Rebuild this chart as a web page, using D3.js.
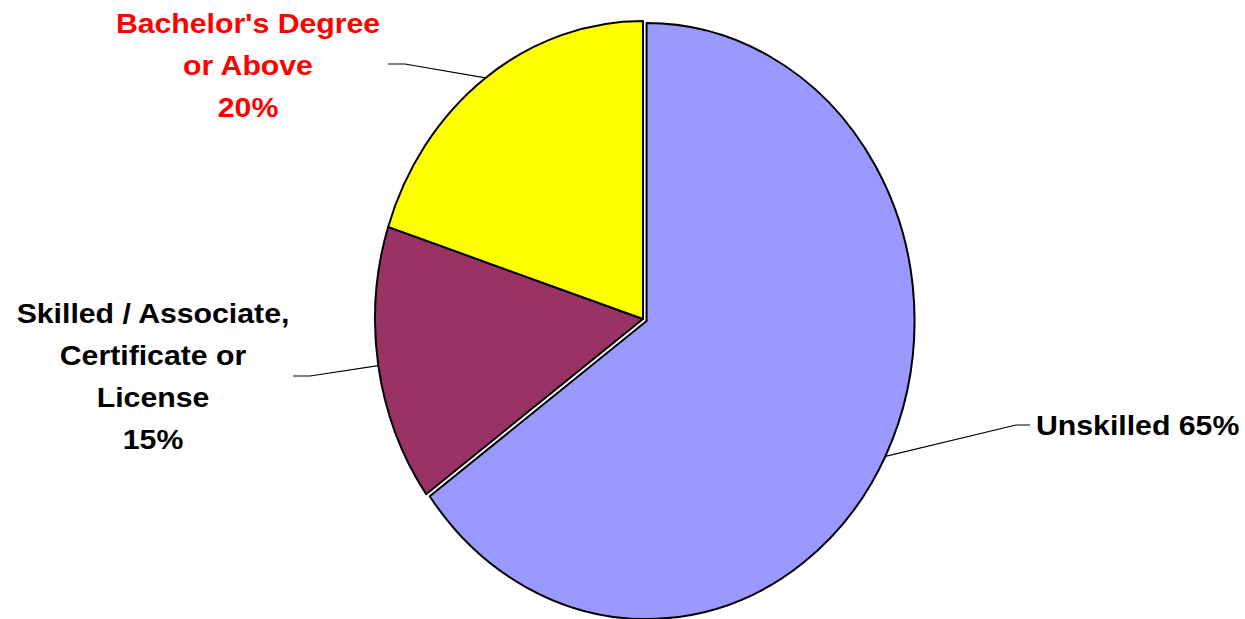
<!DOCTYPE html>
<html>
<head>
<meta charset="utf-8">
<script src="https://cdn.jsdelivr.net/npm/d3@7"></script>
<style>
  body { margin: 0; background: #fff; }
  svg { display: block; }
  .lbl { font-family: "Liberation Sans", Arial, sans-serif; font-weight: bold; font-size: 28px; }
</style>
</head>
<body>
<div id="chart"></div>
<script>
// data
var categories = ["Unskilled", "Skilled / Associate, Certificate or License", "Bachelor's Degree or Above"];
var shares = [65, 15, 20];
var labelLines = [
  ["Unskilled 65%"],
  ["Skilled / Associate,", "Certificate or", "License", "15%"],
  ["Bachelor's Degree", "or Above", "20%"]
];
var colors = ["#9999ff", "#993366", "#ffff00"];
var labelColors = ["#000", "#000", "#ff0000"];

var width = 1245, height = 619;
var cx = 643, cy = 319, rx = 268, ry = 298;
var explode = [4, 0, 0]; // only unskilled pulled out a little
var stretch = 1.08; // label font is a bit wider than Liberation

// where each label block and its leader elbow sits
var labelPos = [
  {x: 1036, y: 435, anchor: "start", elbow: [1016, 425], end: [1030, 425]},
  {x: 153, y: 323, anchor: "middle", elbow: [310, 376], end: [293, 376]},
  {x: 248, y: 33, anchor: "middle", elbow: [405, 64], end: [388, 64]}
];

var svg = d3.select("#chart").append("svg")
  .attr("width", width)
  .attr("height", height);

var pie = d3.pie().sort(null).value(d => d);
var arcs = pie(shares);
var arc = d3.arc().innerRadius(0).outerRadius(rx);

var g = svg.append("g")
  .attr("transform", "translate(" + cx + "," + cy + ")");

arcs.forEach(function (a, i) {
  var mid = (a.startAngle + a.endAngle) / 2;
  var dx = Math.sin(mid) * explode[i], dy = -Math.cos(mid) * explode[i] * ry / rx;
  g.append("path")
    .attr("d", arc(a))
    .attr("transform", "translate(" + dx + "," + dy + ") scale(1," + (ry / rx) + ")")
    .attr("fill", colors[i])
    .attr("stroke", "#000")
    .attr("stroke-width", 2)
    .attr("stroke-linejoin", "round")
    .attr("vector-effect", "non-scaling-stroke");
});

// leader lines + labels
arcs.forEach(function (a, i) {
  var mid = (a.startAngle + a.endAngle) / 2;
  var ex = Math.sin(mid) * explode[i], ey = -Math.cos(mid) * explode[i] * ry / rx;
  var px = cx + ex + Math.sin(mid) * rx;
  var py = cy + ey - Math.cos(mid) * ry;
  var p = labelPos[i];
  svg.append("polyline")
    .attr("points", [[px, py], p.elbow, p.end].map(q => q.join(",")).join(" "))
    .attr("fill", "none")
    .attr("stroke", "#000")
    .attr("stroke-width", 1.2);

  var t = svg.append("text")
    .attr("class", "lbl")
    .attr("transform", "translate(" + p.x + "," + p.y + ") scale(" + stretch + ",1)")
    .attr("text-anchor", p.anchor)
    .attr("fill", labelColors[i]);
  labelLines[i].forEach(function (line, j) {
    t.append("tspan")
      .attr("x", 0)
      .attr("dy", j == 0 ? 0 : 42)
      .text(line);
  });
});
</script>
</body>
</html>
